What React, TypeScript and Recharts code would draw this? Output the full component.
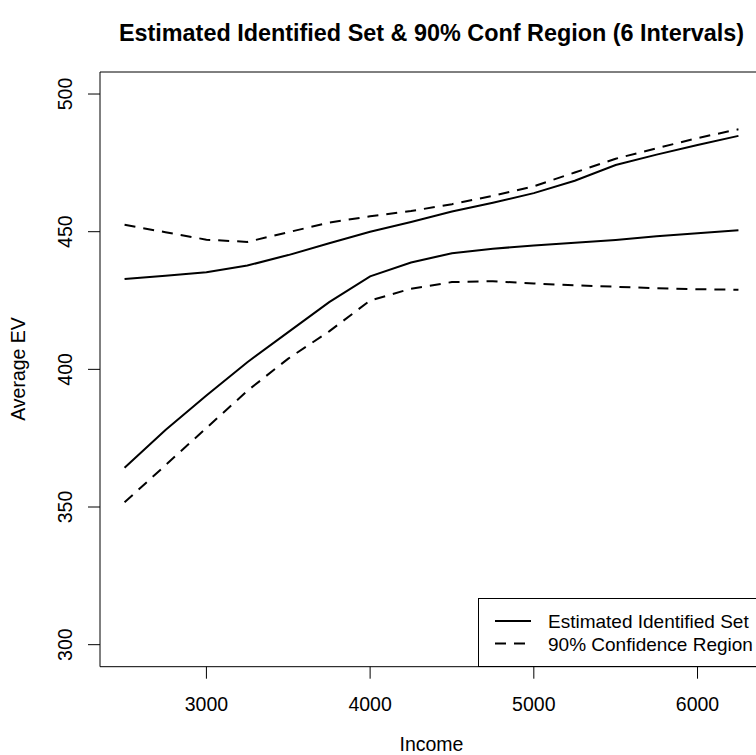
import { LineChart, Line, XAxis, YAxis, ReferenceLine, Legend, Label } from 'recharts'

const incomes = [2500, 2750, 3000, 3250, 3500, 3750, 4000, 4250, 4500, 4750, 5000, 5250, 5500, 5750, 6000, 6250]
const idLower = [364.3, 378.0, 390.5, 402.6, 413.5, 424.4, 433.8, 438.8, 442.2, 443.8, 445.0, 446.0, 447.0, 448.3, 449.4, 450.5]
const idUpper = [432.8, 434.0, 435.3, 437.7, 441.5, 445.8, 450.0, 453.5, 457.3, 460.5, 464.0, 468.5, 474.2, 478.0, 481.5, 484.8]
const ciLower = [351.7, 365.2, 378.7, 392.2, 403.9, 413.8, 425.0, 429.3, 431.7, 432.0, 431.2, 430.5, 430.0, 429.5, 429.1, 428.9]
const ciUpper = [452.5, 449.8, 447.1, 446.3, 449.8, 453.3, 455.6, 457.5, 460.0, 463.0, 466.5, 471.5, 476.5, 480.3, 484.0, 487.2]
const xTicks = [3000, 4000, 5000, 6000]
const yTicks = [300, 350, 400, 450, 500]
const legendNames = ['Estimated Identified Set', '90% Confidence Region']

const data = incomes.map((income, i) => ({
  income,
  idLower: idLower[i],
  idUpper: idUpper[i],
  ciLower: ciLower[i],
  ciUpper: ciUpper[i],
}))

const FONT = '"Liberation Sans", Arial, Helvetica, sans-serif'
const FS = 19.5
const DASH = '11 8'

const XTick = ({ x, y, payload }: any) => (
  <text x={x} y={y + 30} textAnchor="middle" fontFamily={FONT} fontSize={FS} fill="#000">
    {payload.value}
  </text>
)

const YTick = ({ y, payload }: any) => (
  <text
    x={72}
    y={y}
    transform={`rotate(-90 72 ${y})`}
    textAnchor="middle"
    fontFamily={FONT}
    fontSize={FS}
    fill="#000"
  >
    {payload.value}
  </text>
)

const LegendBox = ({ payload }: any) => {
  const items = legendNames
    .map((n) => (payload || []).find((p: any) => p.value === n))
    .filter(Boolean)
  return (
    <svg width={300} height={69} style={{ display: 'block' }}>
      <rect x={0.5} y={0.5} width={299} height={68} fill="#fff" stroke="#000" />
      {items.map((p: any, i: number) => {
        const cy = 23 + i * 22.6
        return (
          <g key={p.value}>
            <line
              x1={17}
              x2={53}
              y1={cy}
              y2={cy}
              stroke="#000"
              strokeWidth={2}
              strokeDasharray={p.payload?.strokeDasharray}
            />
            <text x={70} y={cy + 7} fontFamily={FONT} fontSize={19} fill="#000">
              {p.value}
            </text>
          </g>
        )
      })}
    </svg>
  )
}

export default function App() {
  return (
    <div style={{ position: 'absolute', left: 0, top: 0, width: 756, height: 755, overflow: 'hidden', background: '#fff' }}>
      <div
        style={{
          position: 'absolute',
          left: 0,
          width: 863,
          top: 20,
          textAlign: 'center',
          fontFamily: FONT,
          fontWeight: 'bold',
          fontSize: 23.4,
        }}
      >
        Estimated Identified Set &amp; 90% Conf Region (6 Intervals)
      </div>
      <LineChart width={770} height={755} data={data} margin={{ top: 72, right: 7, bottom: 0, left: 0 }}>
        <XAxis
          dataKey="income"
          type="number"
          domain={[2350, 6400]}
          ticks={xTicks}
          allowDataOverflow
          height={88.3}
          tickSize={12}
          tick={<XTick />}
          stroke="#000"
        >
          <Label
            content={() => (
              <text x={431.5} y={751} textAnchor="middle" fontFamily={FONT} fontSize={FS} fill="#000">
                Income
              </text>
            )}
          />
        </XAxis>
        <YAxis
          type="number"
          domain={[292, 508]}
          ticks={yTicks}
          allowDataOverflow
          width={100}
          tickSize={12}
          tick={<YTick />}
          stroke="#000"
        >
          <Label
            content={() => (
              <text
                x={25}
                y={369}
                transform="rotate(-90 25 369)"
                textAnchor="middle"
                fontFamily={FONT}
                fontSize={FS}
                fill="#000"
              >
                Average EV
              </text>
            )}
          />
        </YAxis>
        <ReferenceLine y={508} stroke="#000" />
        <ReferenceLine x={6400} stroke="#000" />
        <Line dataKey="idUpper" name="Estimated Identified Set" type="linear" stroke="#000" strokeWidth={2} dot={false} isAnimationActive={false} />
        <Line dataKey="idLower" type="linear" stroke="#000" strokeWidth={2} dot={false} legendType="none" isAnimationActive={false} />
        <Line dataKey="ciUpper" name="90% Confidence Region" type="linear" stroke="#000" strokeWidth={2} strokeDasharray={DASH} dot={false} isAnimationActive={false} />
        <Line dataKey="ciLower" type="linear" stroke="#000" strokeWidth={2} strokeDasharray={DASH} dot={false} legendType="none" isAnimationActive={false} />
        <Legend
          layout="horizontal"
          verticalAlign="middle"
          align="center"
          content={<LegendBox />}
          wrapperStyle={{ position: 'absolute', left: 478, top: 598, width: 300, height: 69, margin: 0 }}
        />
      </LineChart>
    </div>
  )
}
